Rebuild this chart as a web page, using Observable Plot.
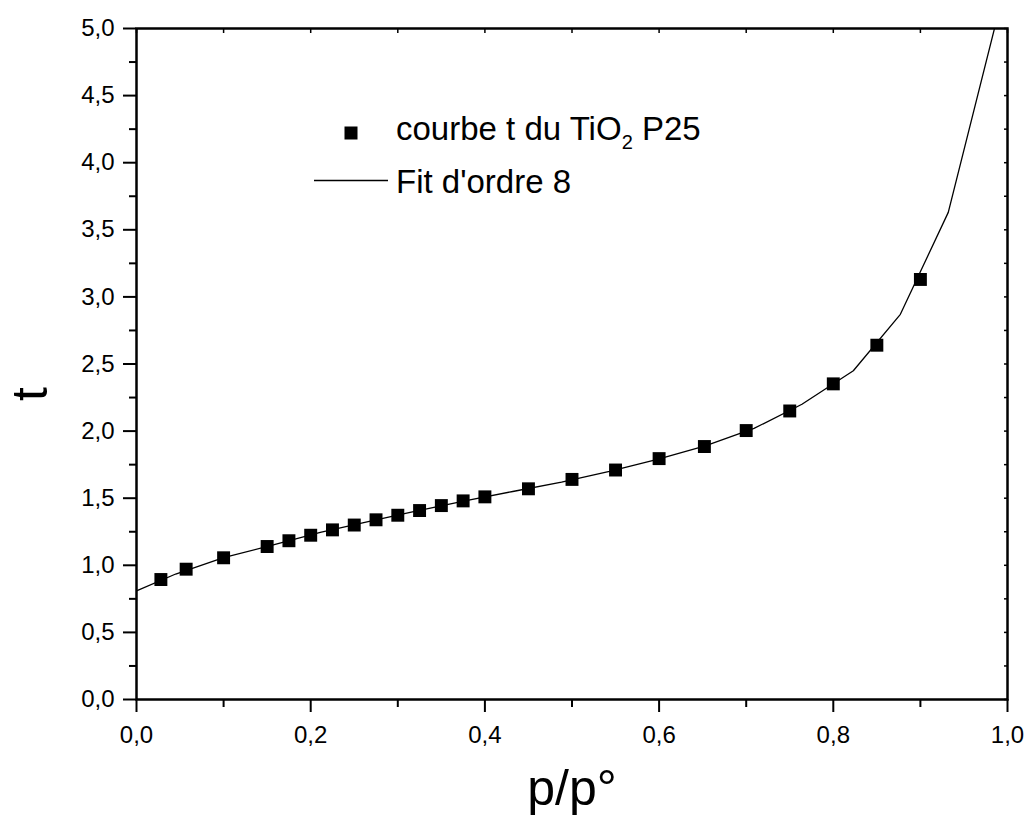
<!DOCTYPE html>
<html>
<head>
<meta charset="utf-8">
<script src="https://cdn.jsdelivr.net/npm/d3@7"></script>
<script src="https://cdn.jsdelivr.net/npm/@observablehq/plot@0.6"></script>
<style>
  html, body { margin: 0; padding: 0; background: #fff; }
  svg { display: block; }
</style>
</head>
<body>
<div id="chart"></div>
<script>
// Measured data: courbe t du TiO2 P25
const pData = [0.028, 0.057, 0.1, 0.15, 0.175, 0.2, 0.225, 0.25, 0.275, 0.3, 0.325, 0.35, 0.375, 0.4, 0.45, 0.5, 0.55, 0.6, 0.652, 0.7, 0.75, 0.8, 0.85, 0.9];
const tData = [0.894, 0.971, 1.056, 1.14, 1.183, 1.224, 1.264, 1.30, 1.339, 1.373, 1.408, 1.445, 1.48, 1.51, 1.57, 1.64, 1.71, 1.795, 1.885, 2.004, 2.15, 2.352, 2.64, 3.13];

// Fit d'ordre 8 (sampled curve)
const pFit = [0.0, 0.045, 0.100, 0.156, 0.211, 0.266, 0.322, 0.377, 0.432, 0.488, 0.543, 0.598, 0.653, 0.709, 0.764, 0.823, 0.877, 0.932, 0.987];
const tFit = [0.81, 0.935, 1.057, 1.15, 1.245, 1.325, 1.405, 1.48, 1.55, 1.62, 1.70, 1.79, 1.89, 2.02, 2.20, 2.45, 2.87, 3.63, 5.05];

const xMajor = [0, 0.2, 0.4, 0.6, 0.8, 1.0];
const xMinor = [0.1, 0.3, 0.5, 0.7, 0.9];
const yMajor = [0, 0.5, 1, 1.5, 2, 2.5, 3, 3.5, 4, 4.5, 5];
const yMinor = [0.25, 0.75, 1.25, 1.75, 2.25, 2.75, 3.25, 3.75, 4.25, 4.75];

const pointsTable = pData.map((p, i) => ({p, t: tData[i]}));
const fitTable = pFit.map((p, i) => ({p, t: tFit[i]}));

const fmt = d => d.toFixed(1).replace(".", ",");
const FONT = "'Liberation Sans', Arial, Helvetica, sans-serif";

const chart = Plot.plot({
  width: 1031,
  height: 825,
  marginTop: 28,
  marginBottom: 126,
  marginLeft: 136,
  marginRight: 24,
  style: {fontFamily: FONT, fontSize: "24px", background: "#fff", color: "#000"},
  x: {domain: [0, 1]},
  y: {domain: [0, 5]},
  marks: [
    // bottom axis
    Plot.axisX({anchor: "bottom", ticks: xMajor, tickFormat: fmt, tickSize: 13, tickPadding: 13, fontSize: 24, strokeWidth: 2, label: null}),
    Plot.axisX({anchor: "bottom", ticks: xMinor, tickSize: 8, text: null, strokeWidth: 2, label: null}),
    // top axis (inner small ticks)
    Plot.axisX({anchor: "top", ticks: xMajor.concat(xMinor), tickSize: -4, text: null, strokeWidth: 1.5, label: null}),
    // left axis
    Plot.axisY({anchor: "left", ticks: yMajor, tickFormat: fmt, tickSize: 13, tickPadding: 9, fontSize: 24, strokeWidth: 2, label: null}),
    Plot.axisY({anchor: "left", ticks: yMinor, tickSize: 7, text: null, strokeWidth: 2, label: null}),
    // right axis (inner small ticks)
    Plot.axisY({anchor: "right", ticks: yMajor.concat(yMinor), tickSize: -4, text: null, strokeWidth: 1.5, label: null}),
    Plot.frame({stroke: "#000", strokeWidth: 2.5}),
    Plot.line(fitTable, {x: "p", y: "t", stroke: "#000", strokeWidth: 1.3, clip: true}),
    Plot.dot(pointsTable, {x: "p", y: "t", symbol: "square", r: 7.3, fill: "#000", stroke: "none"})
  ]
});

document.getElementById("chart").appendChild(chart);

const svg = d3.select(chart);
// enforce tick label size
svg.selectAll('g[aria-label$="tick label"]').attr("font-size", 24).style("font-size", "24px");

// Axis titles
svg.append("text")
  .attr("transform", "translate(47,394) rotate(-90)")
  .attr("text-anchor", "middle")
  .attr("font-family", FONT)
  .style("font-size", "50px")
  .attr("fill", "#000")
  .text("t");
svg.append("text")
  .attr("x", 572).attr("y", 805)
  .attr("text-anchor", "middle")
  .attr("font-family", FONT)
  .style("font-size", "50px")
  .attr("fill", "#000")
  .text("p/p°");

// Legend
const lg = svg.append("g").attr("font-family", FONT).style("font-size", "33px").attr("fill", "#000").attr("text-anchor", "start");
lg.append("rect").attr("x", 344.5).attr("y", 126.5).attr("width", 13).attr("height", 13).attr("fill", "#000");
const t1 = lg.append("text").attr("x", 396).attr("y", 140);
t1.append("tspan").text("courbe t du TiO");
t1.append("tspan").style("font-size", "20px").attr("dy", 9).text("2");
t1.append("tspan").attr("dy", -9).text(" P25");
lg.append("line").attr("x1", 314).attr("x2", 388).attr("y1", 180.5).attr("y2", 180.5).attr("stroke", "#000").attr("stroke-width", 1.3);
lg.append("text").attr("x", 396).attr("y", 193).text("Fit d'ordre 8");
</script>
</body>
</html>
